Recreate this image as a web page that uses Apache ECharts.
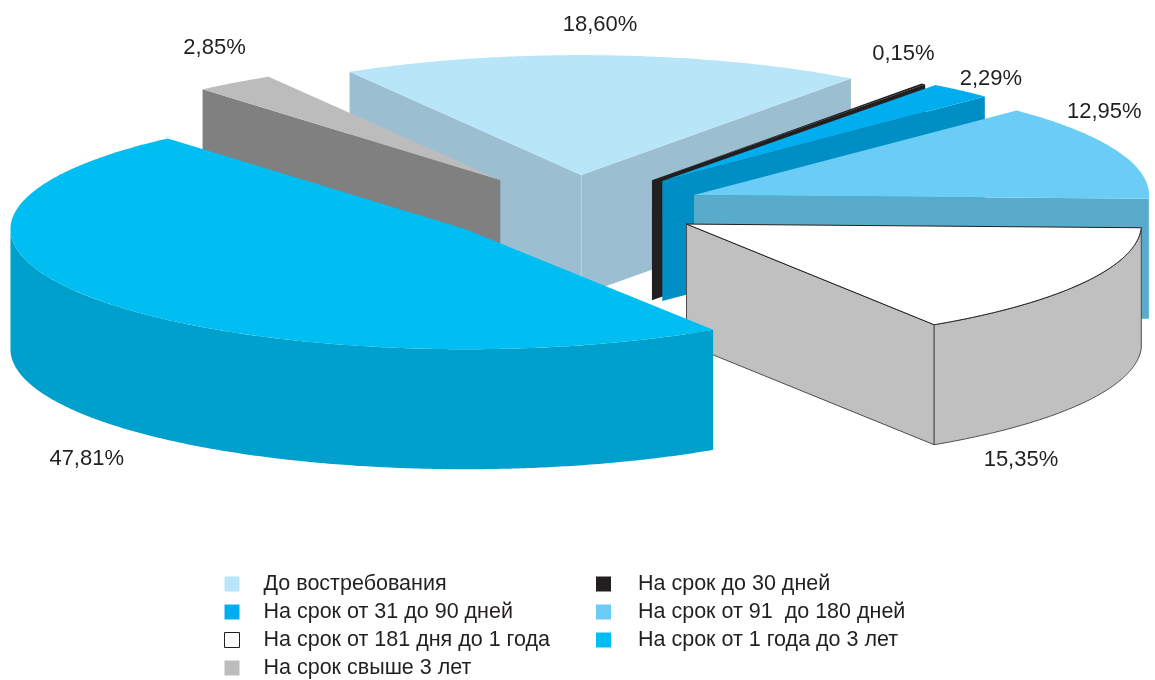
<!DOCTYPE html>
<html>
<head>
<meta charset="utf-8">
<script src="https://cdn.jsdelivr.net/npm/echarts@6/dist/echarts.min.js"></script>
<style>
  html, body { margin: 0; padding: 0; background: #fff; }
  #chart { width: 1155px; height: 680px; }
</style>
</head>
<body>
<div id="chart"></div>
<script>
// данные (доли, %), по часовой стрелке начиная с верхнего сектора
const categories = [
  'До востребования',
  'На срок до 30 дней',
  'На срок от 31 до 90 дней',
  'На срок от 91  до 180 дней',
  'На срок от 181 дня до 1 года',
  'На срок от 1 года до 3 лет',
  'На срок свыше 3 лет'
]
const shares = [18.60, 0.15, 2.29, 12.95, 15.35, 47.81, 2.85]
// порядок в легенде (две колонки)
const legendLeft = ['До востребования', 'На срок от 31 до 90 дней', 'На срок от 181 дня до 1 года', 'На срок свыше 3 лет']
const legendRight = ['На срок до 30 дней', 'На срок от 91  до 180 дней', 'На срок от 1 года до 3 лет']

// оформление
const topColors = ['#b9e5f9', '#231f20', '#00adee', '#6bcdf5', '#ffffff', '#00bdf2', '#bcbcbc']
const sideColors = ['#9bbfd1', '#231f20', '#008fc4', '#59abcb', '#c0c0c0', '#00a0cc', '#808080']
const explode = [123, 129, 133, 128, 128, 137, 128]
const labelOffsets = [[-4, 0], [-20, 0], [30, 18], [-13, -9], [-62, 19], [-15, 0], [-20, -5]]

const CX = 575, CY = 207.5   // центр эллипса
const R = 455, RY = 120      // полуоси
const H = 120                // толщина
const START = -30.6          // угол начала первого сектора (от 12 часов по часовой)
const K = RY / R
const rad = d => d * Math.PI / 180

function rim (ax, ay, deg, dy) {
  return [ax + R * Math.sin(rad(deg)), ay - RY * Math.cos(rad(deg)) + (dy || 0)]
}

function layoutSlices () {
  const total = shares.reduce((s, v) => s + v, 0)
  let a = START
  const res = shares.map((v, i) => {
    const a0 = a
    const a1 = a + v / total * 360
    a = a1
    const mid = (a0 + a1) / 2
    const ax = CX + explode[i] * Math.sin(rad(mid))
    const ay = CY - explode[i] * K * Math.cos(rad(mid))
    let front = ay
    for (let t = a0; t <= a1; t += 0.5) front = Math.max(front, rim(ax, ay, t)[1])
    front = Math.max(front, rim(ax, ay, a1)[1])
    return { a0, a1, mid, ax, ay, front }
  })
  const order = res.map((s, i) => i).sort((p, q) => res[p].front - res[q].front)
  order.forEach((idx, rank) => { res[idx].rank = rank })
  return res
}
const slices = layoutSlices()

function arc (ax, ay, from, to, dy) {
  const pts = []
  const n = Math.max(2, Math.ceil(Math.abs(to - from) / 0.5))
  for (let j = 0; j <= n; j++) pts.push(rim(ax, ay, from + (to - from) * j / n, dy))
  return pts
}

function fmt (v) {
  return v.toFixed(2).replace('.', ',') + '%'
}

function renderSlice (params, api) {
  const i = params.seriesIndex
  const s = slices[i]
  const v = api.value(0)
  const base = s.rank * 10
  const outline = i === 4
  const wallStyle = { fill: sideColors[i], stroke: outline ? '#4d4d4d' : null, lineWidth: outline ? 1 : 0 }
  const children = []
  const A = [s.ax, s.ay]
  const AB = [s.ax, s.ay + H]
  const startWall = Math.sin(rad(s.a0)) < 0
  const endWall = Math.sin(rad(s.a1)) > 0

  // радиальные стенки
  if (startWall) {
    const p = rim(s.ax, s.ay, s.a0)
    children.push({ type: 'polygon', z2: base + 1, shape: { points: [A, p, [p[0], p[1] + H], AB] }, style: wallStyle })
  }
  if (endWall) {
    const p = rim(s.ax, s.ay, s.a1)
    children.push({ type: 'polygon', z2: base + 1, shape: { points: [A, p, [p[0], p[1] + H], AB] }, style: wallStyle })
  }
  if (startWall && endWall && !outline) {
    // светлое ребро между стенками
    children.push({ type: 'line', z2: base + 2, shape: { x1: A[0], y1: A[1], x2: AB[0], y2: AB[1] }, style: { stroke: '#b4d2e0', lineWidth: 1 } })
  }
  // внешняя стенка (видимая часть)
  const lo = Math.max(s.a0, 90), hi = Math.min(s.a1, 270)
  if (hi > lo) {
    const pts = arc(s.ax, s.ay, lo, hi, 0).concat(arc(s.ax, s.ay, hi, lo, H))
    children.push({ type: 'polygon', z2: base + 2, shape: { points: pts }, style: wallStyle })
  }
  // верхняя грань
  children.push({
    type: 'polygon', z2: base + 3,
    shape: { points: [A].concat(arc(s.ax, s.ay, s.a0, s.a1, 0)) },
    style: { fill: topColors[i], stroke: outline ? '#231f20' : null, lineWidth: outline ? 1 : 0 }
  })
  // подпись
  const lp = rim(s.ax, s.ay, s.mid)
  const top = Math.cos(rad(s.mid)) >= 0
  children.push({
    type: 'text', z2: 500,
    x: lp[0] + labelOffsets[i][0],
    y: (top ? lp[1] - 30 : lp[1] + H + 38) + labelOffsets[i][1],
    style: {
      text: fmt(v), fill: '#231f20',
      font: '22px "Liberation Sans", Arial, sans-serif',
      align: 'center', verticalAlign: 'middle'
    }
  })
  return { type: 'group', children: children }
}

const chart = echarts.init(document.getElementById('chart'), null, { renderer: 'canvas' })

const legendBase = {
  orient: 'vertical',
  top: 573,
  padding: 0,
  itemWidth: 15,
  itemHeight: 15,
  itemGap: 6,
  icon: 'rect',
  selectedMode: false,
  textStyle: {
    color: '#231f20',
    fontSize: 21.5,
    fontFamily: '"Liberation Sans", Arial, sans-serif'
  }
}

function legendItem (name) {
  const i = categories.indexOf(name)
  return {
    name: name,
    itemStyle: { color: topColors[i], borderColor: i === 4 ? '#231f20' : topColors[i], borderWidth: i === 4 ? 1 : 0 }
  }
}

chart.setOption({
  animation: false,
  backgroundColor: '#fff',
  legend: [
    Object.assign({}, legendBase, { left: 224, data: legendLeft.map(legendItem), textStyle: Object.assign({}, legendBase.textStyle, { padding: [0, 0, 0, 19] }) }),
    Object.assign({}, legendBase, { left: 596, data: legendRight.map(legendItem), textStyle: Object.assign({}, legendBase.textStyle, { padding: [0, 0, 0, 22] }) })
  ],
  series: categories.map((name, i) => ({
    type: 'custom',
    name: name,
    coordinateSystem: 'none',
    silent: true,
    itemStyle: { color: topColors[i] },
    renderItem: renderSlice,
    data: [[shares[i]]]
  }))
})
</script>
</body>
</html>
